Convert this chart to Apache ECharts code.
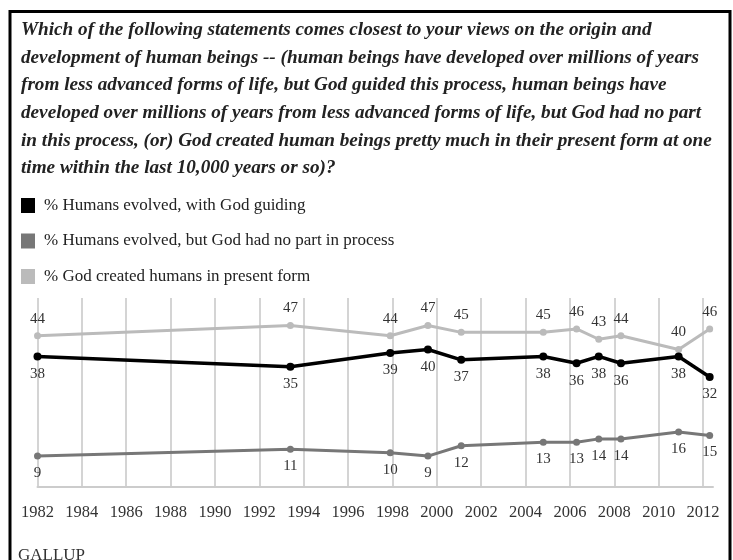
<!DOCTYPE html>
<html><head><meta charset="utf-8">
<script src="https://cdn.jsdelivr.net/npm/echarts@6/dist/echarts.min.js"></script>
<style>html,body{margin:0;padding:0;background:#fff}#c{width:733px;height:560px}</style>
</head><body><div id="c"></div>
<script>
const years = [1982.0, 1993.4, 1997.9, 1999.6, 2001.1, 2004.8, 2006.3, 2007.3, 2008.3, 2010.9, 2012.3];
const godGuiding = [38, 35, 39, 40, 37, 38, 36, 38, 36, 38, 32];
const noGod = [9, 11, 10, 9, 12, 13, 13, 14, 14, 16, 15];
const creationism = [44, 47, 44, 47, 45, 45, 46, 43, 44, 40, 46];
const seriesNames = ['% Humans evolved, with God guiding', '% Humans evolved, but God had no part in process', '% God created humans in present form'];
const titleLines = [
  'Which of the following statements comes closest to your views on the origin and',
  'development of human beings -- (human beings have developed over millions of years',
  'from less advanced forms of life, but God guided this process, human beings have',
  'developed over millions of years from less advanced forms of life, but God had no part',
  'in this process, (or) God created human beings pretty much in their present form at one',
  'time within the last 10,000 years or so)?'
];
const serif = '"Liberation Serif", "DejaVu Serif", serif';
const pair = a => a.map((v, i) => [years[i], v]);
const chart = echarts.init(document.getElementById('c'), null, {renderer: 'canvas'});
const lbl = pos => ({show: true, position: pos, distance: 6, color: '#333', fontFamily: serif, fontSize: 15});
chart.setOption({
  animation: false,
  backgroundColor: '#fff',
  title: {
    text: titleLines.join('\n'), left: 16, top: 11,
    textStyle: {fontFamily: serif, fontStyle: 'italic', fontWeight: 'bold', fontSize: 19.2, lineHeight: 27.7, color: '#222'}
  },
  legend: {
    orient: 'vertical', left: 21, top: 197, padding: 0, itemGap: 18.5, itemWidth: 14, itemHeight: 15, icon: 'rect',
    textStyle: {fontFamily: serif, fontSize: 17, color: '#222', padding: [0, 0, 0, 4]},
    data: seriesNames
  },
  grid: {left: 37.5, right: 20, top: 298, bottom: 73, containLabel: false},
  xAxis: {
    type: 'value', min: 1982, max: 2012.45, interval: 2,
    axisLine: {show: true, lineStyle: {color: '#ccc', width: 2}},
    axisTick: {show: false},
    axisLabel: {color: '#333', fontFamily: serif, fontSize: 16.5, margin: 17, showMinLabel: true, showMaxLabel: false,
      formatter: v => (Math.abs(v - Math.round(v)) < 1e-6 && Math.round(v) % 2 === 0) ? String(Math.round(v)) : ''},
    splitLine: {show: true, showMinLine: true, showMaxLine: false, lineStyle: {color: '#d4d4d4', width: 2}}
  },
  yAxis: {type: 'value', min: 0, max: 55, show: false, splitLine: {show: false}},
  series: [
    {name: seriesNames[0], type: 'line', data: pair(godGuiding), color: '#000',
     lineStyle: {width: 3.5}, symbol: 'circle', symbolSize: 8, label: lbl('bottom'), z: 5},
    {name: seriesNames[1], type: 'line', data: pair(noGod), color: '#777',
     lineStyle: {width: 3}, symbol: 'circle', symbolSize: 7, label: lbl('bottom'), z: 4},
    {name: seriesNames[2], type: 'line', data: pair(creationism), color: '#bbb',
     lineStyle: {width: 3}, symbol: 'circle', symbolSize: 7, label: lbl('top'), z: 3}
  ],
  graphic: [
    {type: 'rect', shape: {x: 10, y: 11.5, width: 720, height: 600}, style: {fill: null, stroke: '#000', lineWidth: 3}, silent: true},
    {type: 'text', left: 18, top: 547, style: {text: 'GALLUP', fontFamily: serif, fontSize: 17, fill: '#333'}}
  ]
});
</script></body></html>
